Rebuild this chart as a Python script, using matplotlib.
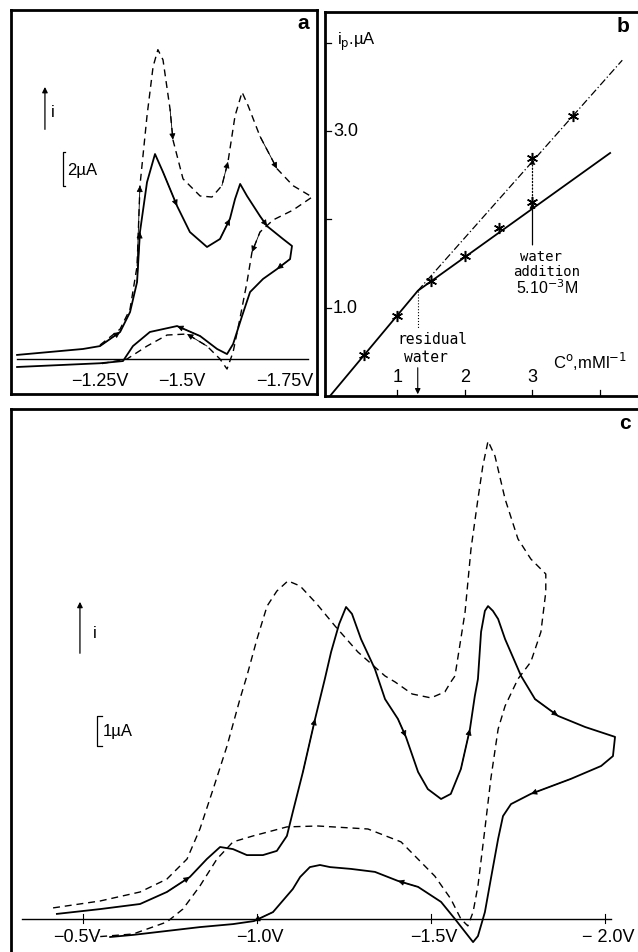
import numpy as np
import matplotlib
matplotlib.use('Agg')
from matplotlib import pyplot as plt

plt.rcParams['font.family'] = ['Liberation Sans', 'DejaVu Sans']

# ---- panel a : cyclic voltammograms (E in V, i in uA) ----
a_sol_E = [-0.944, -1.15, -1.203, -1.266, -1.297, -1.319, -1.328, -1.35, -1.375, -1.40,
           -1.444, -1.484, -1.5375, -1.578, -1.609, -1.625, -1.641, -1.6625, -1.703, -1.725,
           -1.775, -1.803, -1.797, -1.756, -1.7125, -1.672, -1.647, -1.619, -1.60, -1.569,
           -1.516, -1.444, -1.359, -1.306, -1.275, -1.203, -0.944]
a_sol_I = [0.24, 0.59, 0.76, 1.59, 2.76, 4.53, 7.47, 10.4, 12.06, 11.0,
           9.0, 7.47, 6.59, 7.06, 8.24, 9.41, 10.3, 9.59, 8.41, 7.82,
           7.06, 6.65, 5.88, 5.29, 4.71, 3.94, 2.53, 0.88, 0.29, 0.59,
           1.35, 1.94, 1.59, 0.76, -0.12, -0.25, -0.47]
a_sol_arrows = [3, 6, 10, 14, 19, 23, 31]

a_dash_E = [-1.203, -1.266, -1.297, -1.319, -1.328, -1.35, -1.369, -1.384, -1.40, -1.422,
            -1.431, -1.4625, -1.516, -1.553, -1.584, -1.603, -1.625, -1.647, -1.666, -1.703,
            -1.756, -1.806, -1.866, -1.806, -1.744, -1.703, -1.678, -1.6625, -1.64, -1.619,
            -1.60, -1.578, -1.5375, -1.475, -1.4125, -1.35, -1.2875, -1.203]
a_dash_I = [0.82, 1.76, 2.94, 5.47, 10.2, 14.3, 17.2, 18.2, 17.6, 14.7,
            12.9, 10.6, 9.59, 9.53, 10.2, 11.6, 14.3, 15.7, 14.9, 13.1,
            11.2, 10.2, 9.53, 8.76, 8.18, 7.47, 6.29, 4.53, 2.35, 0.41,
            -0.59, 0.0, 0.76, 1.47, 1.41, 0.76, 0.0, -0.29]
a_dash_arrows = [4, 10, 15, 20, 26, 33]

a_tick_V = [-1.203, -1.459, -1.781]
a_tick_lab = ['\u22121.25V', '\u22121.5V', '\u22121.75V']

# ---- panel b : peak current vs concentration ----
b_conc = [0.5, 1.0, 1.5, 2.0, 2.5, 3.0]
b_ip = [0.46, 0.91, 1.30, 1.59, 1.90, 2.19]
b_wet_conc = [3.0, 3.6]
b_wet_ip = [2.69, 3.17]
b_low_c = [0.0, 1.3, 4.15]
b_low_i = [0.0, 1.19, 2.75]
b_up_c = [1.3, 4.33]
b_up_i = [1.19, 3.80]
b_kink = (1.3, 1.19)
b_water_from = 1.71

# ---- panel c ----
c_sol_E = [-0.425, -0.549, -0.664, -0.741, -0.807, -0.856, -0.894, -0.931, -0.971, -1.017,
           -1.057, -1.086, -1.103, -1.132, -1.167, -1.195, -1.213, -1.236, -1.256, -1.273,
           -1.299, -1.339, -1.368, -1.405, -1.428, -1.443, -1.463, -1.491, -1.529, -1.557,
           -1.586, -1.612, -1.626, -1.635, -1.644, -1.655, -1.664, -1.678, -1.693, -1.713,
           -1.759, -1.799, -1.865, -1.943, -2.029, -2.023, -1.989, -1.902, -1.787, -1.730,
           -1.707, -1.693, -1.672, -1.655, -1.635, -1.621, -1.598, -1.569, -1.529, -1.463,
           -1.405, -1.339, -1.270, -1.210, -1.181, -1.152, -1.124, -1.103, -1.046, -0.991,
           -0.931, -0.836, -0.644, -0.578]
c_sol_I = [0.17, 0.33, 0.5, 0.9, 1.4, 2.0, 2.4, 2.33, 2.13, 2.13,
           2.27, 2.77, 3.57, 4.9, 6.67, 8.0, 8.9, 9.83, 10.4, 10.17,
           9.33, 8.33, 7.33, 6.67, 6.07, 5.57, 4.9, 4.33, 4.0, 4.17,
           5.0, 6.33, 7.43, 8.0, 9.57, 10.27, 10.43, 10.27, 10.0, 9.33,
           8.1, 7.33, 6.77, 6.4, 6.07, 5.43, 5.1, 4.67, 4.17, 3.83,
           3.43, 2.67, 1.33, 0.23, -0.57, -0.77, -0.43, 0.0, 0.57, 1.07,
           1.27, 1.57, 1.67, 1.73, 1.8, 1.73, 1.4, 1.0, 0.23, -0.07,
           -0.17, -0.27, -0.53, -0.6]
c_sol_arrows = [4, 14, 24, 31, 42, 48, 60, 69]

c_dash_E = [-0.414, -0.549, -0.664, -0.741, -0.799, -0.836, -0.874, -0.914, -0.951, -0.971,
            -1.0, -1.029, -1.057, -1.089, -1.124, -1.172, -1.224, -1.290, -1.368, -1.397,
            -1.446, -1.5, -1.540, -1.557, -1.569, -1.598, -1.615, -1.635, -1.649, -1.664,
            -1.684, -1.713, -1.75, -1.787, -1.830, -1.830, -1.816, -1.787, -1.75, -1.713,
            -1.693, -1.672, -1.655, -1.635, -1.621, -1.606, -1.586, -1.557, -1.511, -1.414,
            -1.319, -1.175, -1.086, -0.989, -0.931, -0.885, -0.836, -0.787, -0.741, -0.644,
            -0.534]
c_dash_I = [0.37, 0.6, 0.9, 1.33, 2.0, 3.0, 4.33, 5.77, 7.33, 8.1,
            9.33, 10.43, 10.93, 11.27, 11.1, 10.5, 9.77, 8.9, 8.1, 7.9,
            7.5, 7.37, 7.57, 7.9, 8.1, 10.23, 12.33, 14.0, 15.1, 15.93,
            15.43, 14.0, 12.67, 12.0, 11.5, 10.9, 9.57, 8.57, 8.0, 7.1,
            6.33, 4.67, 3.0, 1.1, 0.23, -0.23, 0.0, 0.67, 1.43, 2.57,
            3.0, 3.1, 3.07, 2.77, 2.57, 2.0, 1.1, 0.33, -0.1, -0.5,
            -0.6]

c_tick_V = [-0.5, -1.0, -1.5, -2.0]
c_lab_V = [-0.483, -1.009, -1.509, -2.009]
c_tick_lab = ['\u22120.5V', '\u22121.0V', '\u22121.5V', '\u2212 2.0V']

DASH = (0, (5, 3.5))


def put_arrows(ax, xs, ys, idx):
    for i in idx:
        ax.annotate('', xy=(xs[i], ys[i]), xytext=(xs[i - 1], ys[i - 1]),
                    arrowprops=dict(arrowstyle='-|>', color='k', lw=0.6,
                                    mutation_scale=9, shrinkA=0, shrinkB=0))


def frame(ax, sides):
    ax.set_xticks([])
    ax.set_yticks([])
    for s in ['left', 'right', 'top', 'bottom']:
        ax.spines[s].set_visible(s in sides)
        ax.spines[s].set_linewidth(2.0)


def scale_marks(ax, xa, y0, y1, bx, by0, by1, tx, ty, txt):
    ax.annotate('', xy=(xa, y1), xytext=(xa, y0), xycoords='axes fraction',
                arrowprops=dict(arrowstyle='-|>', color='k', lw=0.9, mutation_scale=8))
    ax.text(xa + 0.02, (y0 + y1) / 2 - 0.01, 'i', transform=ax.transAxes,
            fontsize=12, va='center')
    ax.plot([bx + 0.008, bx, bx, bx + 0.008], [by0, by0, by1, by1], color='k',
            lw=0.9, transform=ax.transAxes)
    ax.text(tx, ty, txt, transform=ax.transAxes, fontsize=12, va='center')


fig = plt.figure(figsize=(6.38, 9.53), dpi=100)

# ---------------- a ----------------
ax = fig.add_axes([0.0172, 0.5855, 0.4796, 0.4029])
frame(ax, ['left', 'right', 'top', 'bottom'])
ax.set_xlim(-0.925, -1.881)
ax.set_ylim(-2.06, 20.53)
ax.plot([-0.944, -1.853], [0, 0], color='k', lw=1.0)
ax.plot(a_sol_E, a_sol_I, color='k', lw=1.3)
ax.plot(a_dash_E, a_dash_I, color='k', lw=1.0, ls=DASH)
put_arrows(ax, a_sol_E, a_sol_I, a_sol_arrows)
put_arrows(ax, a_dash_E, a_dash_I, a_dash_arrows)
for v, t in zip(a_tick_V, a_tick_lab):
    ax.text(v, 0.034, t, transform=ax.get_xaxis_transform(), ha='center',
            va='center', fontsize=13)
scale_marks(ax, 0.111, 0.682, 0.807, 0.170, 0.630, 0.542, 0.183, 0.586, '2\u00b5A')
ax.text(0.955, 0.968, 'a', transform=ax.transAxes, fontsize=15, fontweight='bold',
        ha='center', va='center')

# ---------------- b ----------------
ax = fig.add_axes([0.5094, 0.5834, 0.4906, 0.4029])
frame(ax, ['left', 'top', 'bottom'])
ax.set_xlim(-0.074, 4.563)
ax.set_ylim(0, 4.345)
ax.plot(b_low_c, b_low_i, color='k', lw=1.3)
ax.plot(b_up_c, b_up_i, color='k', lw=0.9, ls=(0, (6, 2, 1, 2)))
ax.plot(b_conc, b_ip, ls='none', marker=(6, 2, 0), ms=8, mec='k', mew=1.1)
ax.plot(b_wet_conc, b_wet_ip, ls='none', marker=(6, 2, 0), ms=8, mec='k', mew=1.1)
ax.annotate('', xy=(b_wet_conc[0], b_ip[-1]), xytext=(b_wet_conc[0], b_water_from),
            arrowprops=dict(arrowstyle='-|>', color='k', lw=0.9, mutation_scale=8,
                            shrinkA=0, shrinkB=0))
ax.annotate('', xy=(b_wet_conc[0], b_wet_ip[0]), xytext=(b_wet_conc[0], b_ip[-1]),
            arrowprops=dict(arrowstyle='-|>', color='k', lw=0.9, mutation_scale=8,
                            shrinkA=0, shrinkB=0, ls=':'))
# residual water marker: dotted drop, broken by the label, arrow onto the axis
ax.plot([b_kink[0], b_kink[0]], [b_kink[1], 0.76], color='k', lw=0.8, ls=':')
ax.annotate('', xy=(b_kink[0], 0.02), xytext=(b_kink[0], 0.32),
            arrowprops=dict(arrowstyle='-|>', color='k', lw=0.8, mutation_scale=8,
                            shrinkA=0, shrinkB=0))
for v in [1, 2, 3, 4]:
    ax.plot([v, v], [0, 0.07], color='k', lw=0.9)
for v in [1.0, 2.0, 3.0, 4.0]:
    ax.plot([-0.074, 0.02], [v, v], color='k', lw=0.9)
for v in [1, 2, 3]:
    ax.text(v, 0.22, str(v), ha='center', va='center', fontsize=13)
ax.text(0.045, 3.0, '3.0', ha='left', va='center', fontsize=13)
ax.text(0.045, 1.0, '1.0', ha='left', va='center', fontsize=13)
ax.text(0.1, 4.02, 'i$_\\mathrm{p}$.\u00b5A', ha='left', va='center', fontsize=12)
ax.text(3.3, 0.40, 'C$^\\mathrm{o}$,mMl$^{-1}$', ha='left', va='center', fontsize=12)
ax.text(4.34, 4.19, 'b', ha='center', va='center', fontsize=15, fontweight='bold')
ax.text(1.51, 0.65, 'residual', ha='center', va='center', fontsize=10.5,
        family='DejaVu Sans Mono')
ax.text(1.42, 0.45, 'water', ha='center', va='center', fontsize=10.5,
        family='DejaVu Sans Mono')
ax.text(3.13, 1.58, 'water', ha='center', va='center', fontsize=10,
        family='DejaVu Sans Mono')
ax.text(3.21, 1.41, 'addition', ha='center', va='center', fontsize=10,
        family='DejaVu Sans Mono')
ax.text(3.21, 1.24, '5.10$^{-3}$M', ha='center', va='center', fontsize=11.5)

# ---------------- c ----------------
ax = fig.add_axes([0.0172, 0.0, 0.9828, 0.5698])
frame(ax, ['left', 'top'])
ax.set_xlim(-0.293, -2.095)
ax.set_ylim(-1.1, 17.0)
ax.plot([-0.325, -2.017], [0, 0], color='k', lw=1.0)
for v in c_tick_V:
    ax.plot([v, v], [-0.15, 0.15], color='k', lw=0.8)
ax.plot(c_sol_E, c_sol_I, color='k', lw=1.3)
ax.plot(c_dash_E, c_dash_I, color='k', lw=1.0, ls=DASH)
put_arrows(ax, c_sol_E, c_sol_I, c_sol_arrows)
for v, t in zip(c_lab_V, c_tick_lab):
    ax.text(v, 0.028, t, transform=ax.get_xaxis_transform(), ha='center',
            va='center', fontsize=13)
scale_marks(ax, 0.110, 0.545, 0.650, 0.137, 0.435, 0.379, 0.147, 0.407, '1\u00b5A')
ax.text(0.979, 0.976, 'c', transform=ax.transAxes, fontsize=15, fontweight='bold',
        ha='center', va='center')

fig.savefig('out.png', dpi=100)
